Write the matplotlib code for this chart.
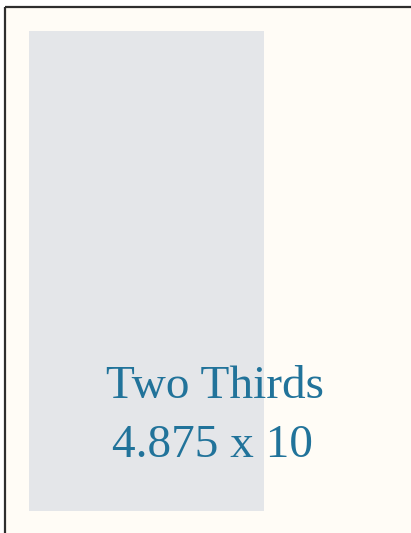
import matplotlib.pyplot as plt
from matplotlib.patches import Rectangle

# page size and the "two thirds" block, in inches
page_w, page_h = 8.5, 11
block_x, block_y = 0.5, 0.5
block_w, block_h = 4.875, 10
labels = ["Two Thirds", "4.875 x 10"]

px = 48.0  # pixels per inch on the drawing
fig = plt.figure(figsize=(4.11, 5.33), dpi=100)
fig.patch.set_facecolor("white")
ax = fig.add_axes([0, 0, 1, 1])
ax.set_xlim(-5 / px, 406 / px)
ax.set_ylim(526 / px, -7 / px)
ax.axis("off")

# page
ax.add_patch(Rectangle((0, 0), page_w, page_h, facecolor="#fffcf6", edgecolor="none"))
ax.plot([0, 0], [page_h, 0], color="#2e2e2e", lw=1.6, solid_capstyle="butt")
ax.plot([0, page_w], [0, 0], color="#2e2e2e", lw=1.6, solid_capstyle="butt")

# block
ax.add_patch(Rectangle((block_x, block_y), block_w + 0.02, block_h, facecolor="#e4e6e9", edgecolor="none"))

# labels
ax.text(4.375, 8.15, labels[0], ha="center", va="baseline", fontsize=34,
        family="Liberation Serif", color="#21739a")
ax.text(4.32, 9.375, labels[1], ha="center", va="baseline", fontsize=34,
        family="Liberation Serif", color="#21739a")

fig.savefig("out.png", dpi=100)
